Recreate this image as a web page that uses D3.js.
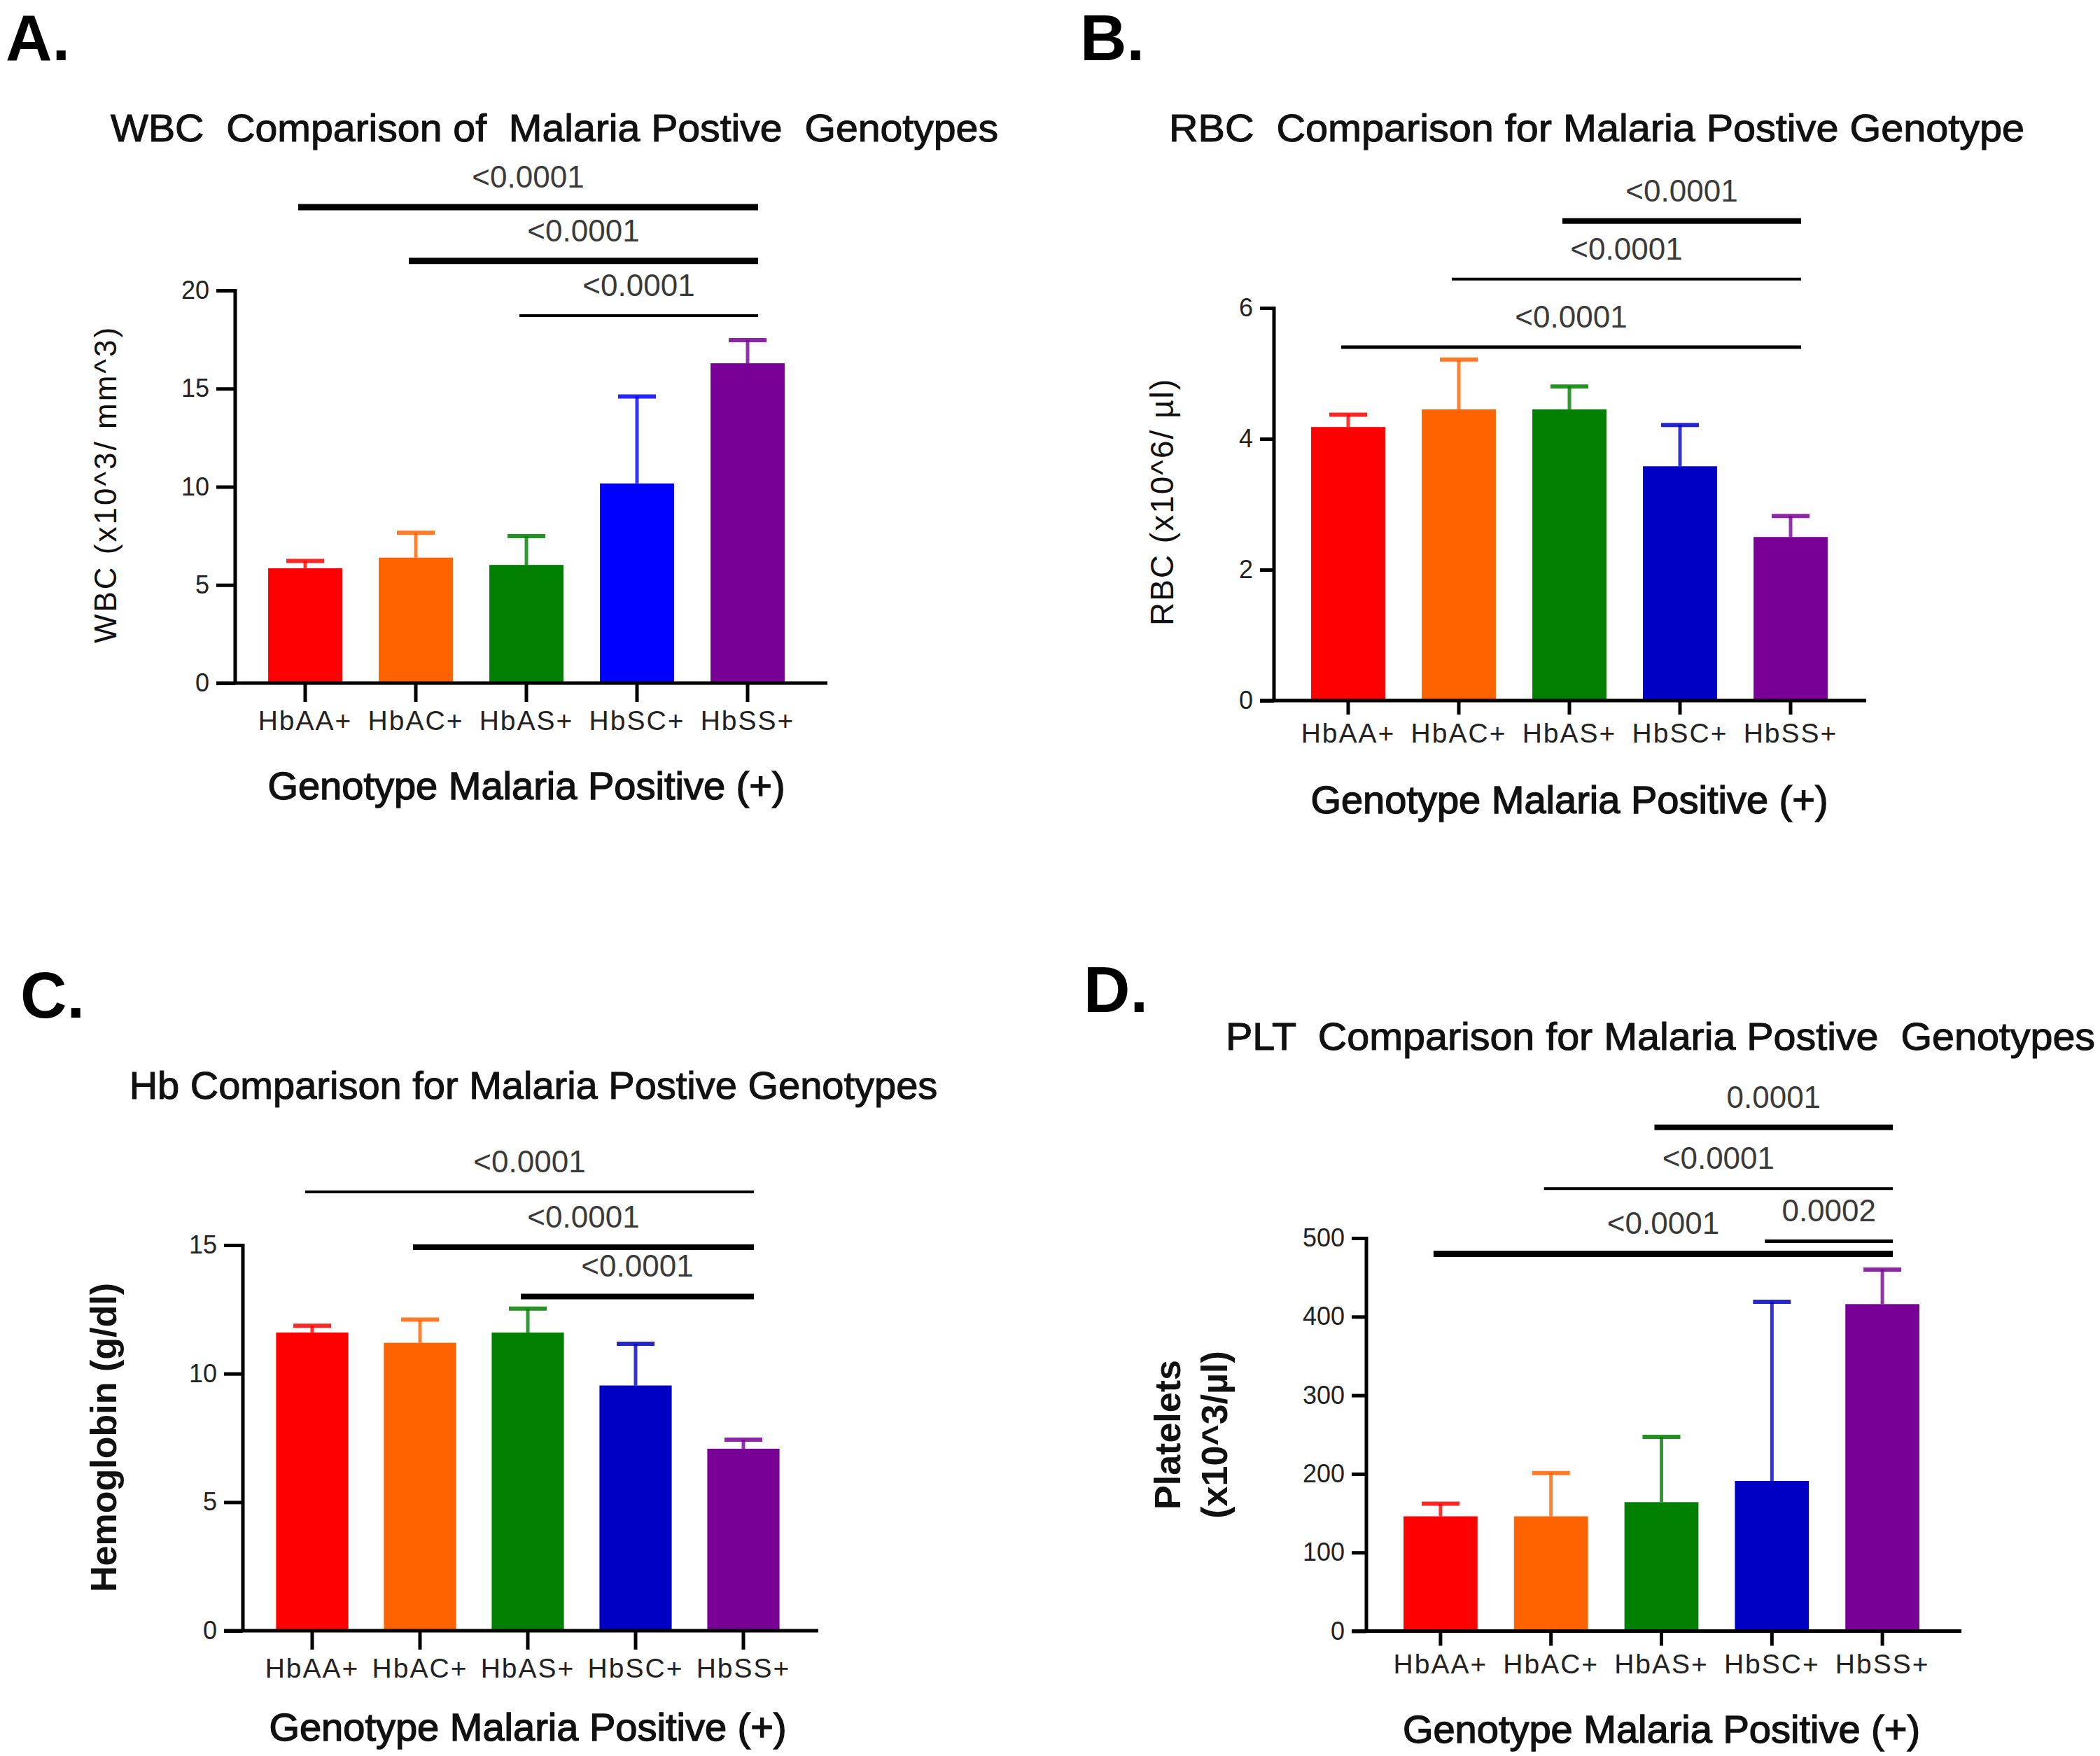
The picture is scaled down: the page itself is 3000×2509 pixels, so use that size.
<!DOCTYPE html>
<html>
<head>
<meta charset="utf-8">
<script src="https://cdn.jsdelivr.net/npm/d3@7"></script>
<style>
  html, body { margin: 0; padding: 0; background: #fff; }
  svg { display: block; }
  text { font-family: "Liberation Sans", Arial, sans-serif; }
</style>
</head>
<body>
<svg id="chart" width="3000" height="2509"></svg>
<script>
// ---------------- DATA ----------------
const categories = ["HbAA+", "HbAC+", "HbAS+", "HbSC+", "HbSS+"];

const wbcMean = [5.85, 6.39, 6.02, 10.17, 16.29];
const wbcErr  = [0.37, 1.27, 1.47, 4.43, 1.18];
const wbcTicks = [0, 5, 10, 15, 20];
const wbcComps = [
  { a: 0, b: 4, p: "<0.0001", y: 24.24 },
  { a: 1, b: 4, p: "<0.0001", y: 21.51 },
  { a: 2, b: 4, p: "<0.0001", y: 18.72 }
];

const rbcMean = [4.18, 4.45, 4.45, 3.58, 2.50];
const rbcErr  = [0.19, 0.76, 0.35, 0.63, 0.32];
const rbcTicks = [0, 2, 4, 6];
const rbcComps = [
  { a: 2, b: 4, p: "<0.0001", y: 7.33 },
  { a: 1, b: 4, p: "<0.0001", y: 6.44 },
  { a: 0, b: 4, p: "<0.0001", y: 5.40 }
];

const hbMean = [11.60, 11.20, 11.60, 9.54, 7.08];
const hbErr  = [0.26, 0.90, 0.93, 1.62, 0.35];
const hbTicks = [0, 5, 10, 15];
const hbComps = [
  { a: 0, b: 4, p: "<0.0001", y: 17.07 },
  { a: 1, b: 4, p: "<0.0001", y: 14.92 },
  { a: 2, b: 4, p: "<0.0001", y: 13.00 }
];

const pltMean = [146, 146, 164, 191, 416];
const pltErr  = [16, 55, 83, 228, 44];
const pltTicks = [0, 100, 200, 300, 400, 500];
const pltComps = [
  { a: 2, b: 4, p: "0.0001",  y: 641 },
  { a: 1, b: 4, p: "<0.0001", y: 563 },
  { a: 0, b: 4, p: "<0.0001", y: 480 },
  { a: 3, b: 4, p: "0.0002",  y: 496 }
];

const panelLetters = ["A.", "B.", "C.", "D."];
const panelTitles = [
  "WBC  Comparison of  Malaria Postive  Genotypes",
  "RBC  Comparison for Malaria Postive Genotype",
  "Hb Comparison for Malaria Postive Genotypes",
  "PLT  Comparison for Malaria Postive  Genotypes"
];
const yTitles = [
  ["WBC (x10^3/ mm^3)"],
  ["RBC (x10^6/ µl)"],
  ["Hemoglobin (g/dl)"],
  ["Platelets", "(x10^3/µl)"]
];
const xTitle = "Genotype Malaria Positive (+)";

// ---------------- STYLE / LAYOUT ----------------
const colorsA = ["#ff0000", "#ff6300", "#007f00", "#0000ff", "#780096"];
const colorsB = ["#ff0000", "#ff6300", "#007f00", "#0000c4", "#780096"];
const compWidths = [[9, 9, 4], [8, 4, 5], [4, 8, 8], [8, 4, 9, 5]];

const layouts = [
  { letterX: 8, letterY: 86, titleX: 792, titleY: 202, titleW: 1268, yAxisX: 336, y0: 976, yTop: 415,
    band: [357, 1147], axisEnd: 1182, tickLen: 27, yTitleX: 166, yTitleY: 692, yTitleBold: false, yTitleSize: 44,
    yTitleSpacing: 3, xTitleY: 1142, colors: colorsA },
  { letterX: 1543, letterY: 86, titleX: 2281, titleY: 202, titleW: 1222, yAxisX: 1820, y0: 1001, yTop: 440,
    band: [1847, 2637], axisEnd: 2666, tickLen: 20, yTitleX: 1676, yTitleY: 717, yTitleBold: false, yTitleSize: 46,
    yTitleSpacing: 2, xTitleY: 1162, colors: colorsB },
  { letterX: 29, letterY: 1454, titleX: 762, titleY: 1570, titleW: 1166, yAxisX: 347, y0: 2330, yTop: 1779,
    band: [369, 1139], axisEnd: 1169, tickLen: 27, yTitleX: 166, yTitleY: 2054, yTitleBold: true, yTitleSize: 52,
    yTitleSpacing: 0, xTitleY: 2487, colors: colorsB },
  { letterX: 1548, letterY: 1446, titleX: 2372, titleY: 1500, titleW: 1242, yAxisX: 1952, y0: 2330.5, yTop: 1769,
    band: [1979, 2768], axisEnd: 2802, tickLen: 21, yTitleX: 1686, yTitleY: 2050, yTitleBold: true, yTitleSize: 52,
    yTitleSpacing: 0, xTitleY: 2490, colors: colorsB, yTitleGap: 67 }
];

const means = [wbcMean, rbcMean, hbMean, pltMean];
const errs = [wbcErr, rbcErr, hbErr, pltErr];
const ticksAll = [wbcTicks, rbcTicks, hbTicks, pltTicks];
const compsAll = [wbcComps, rbcComps, hbComps, pltComps];

const svg = d3.select("#chart");
const AXIS_W = 5;

layouts.forEach((L, i) => {
  const g = svg.append("g");
  const ticks = ticksAll[i];
  const y = d3.scaleLinear().domain([0, d3.max(ticks)]).range([L.y0, L.yTop]);
  const x = d3.scaleBand().domain(categories).range(L.band).paddingInner(0.33).paddingOuter(0.165);
  const cx = c => x(c) + x.bandwidth() / 2;
  const data = categories.map((c, k) => ({ c, m: means[i][k], e: errs[i][k], col: L.colors[k] }));

  // panel letter
  g.append("text").attr("x", L.letterX).attr("y", L.letterY)
    .attr("font-size", 92).attr("font-weight", "bold").attr("fill", "#000").text(panelLetters[i]);

  // title
  const tt = g.append("text").attr("x", L.titleX).attr("y", L.titleY).attr("text-anchor", "middle")
    .attr("font-size", 56).attr("fill", "#111").attr("stroke", "#111").attr("stroke-width", 1.1)
    .style("white-space", "pre").text(panelTitles[i]);
  const tw = tt.node().getComputedTextLength();
  if (Math.abs(tw - L.titleW) > 20) tt.attr("textLength", L.titleW).attr("lengthAdjust", "spacingAndGlyphs");

  // error bars (drawn under bars)
  data.forEach(d => {
    g.append("line").attr("x1", cx(d.c)).attr("x2", cx(d.c))
      .attr("y1", y(d.m)).attr("y2", y(d.m + d.e))
      .attr("stroke", d.col).attr("stroke-width", 5).attr("stroke-opacity", 0.8);
    g.append("line").attr("x1", cx(d.c) - 27).attr("x2", cx(d.c) + 27)
      .attr("y1", y(d.m + d.e)).attr("y2", y(d.m + d.e))
      .attr("stroke", d.col).attr("stroke-width", 6).attr("stroke-opacity", 0.85);
  });

  // bars
  g.selectAll("rect.bar").data(data).enter().append("rect")
    .attr("class", "bar")
    .attr("x", d => x(d.c)).attr("width", x.bandwidth())
    .attr("y", d => y(d.m)).attr("height", d => y(0) - y(d.m))
    .attr("fill", d => d.col);

  // y axis
  const yAxis = d3.axisLeft(y).tickValues(ticks).tickSize(L.tickLen).tickPadding(10).tickFormat(d3.format("d"));
  const ya = g.append("g").attr("transform", `translate(${L.yAxisX},0)`).call(yAxis);
  ya.select(".domain").attr("stroke", "#000").attr("stroke-width", AXIS_W)
    .attr("d", `M0,${L.yTop - 2}V${L.y0 + 2}`);
  ya.selectAll(".tick line").attr("stroke", "#000").attr("stroke-width", AXIS_W);
  ya.selectAll(".tick text").attr("font-size", 36).attr("fill", "#222")
    .attr("font-family", "'Liberation Sans', Arial, sans-serif");

  // x axis
  const xAxis = d3.axisBottom(x).tickSize(L.tickLen).tickPadding(12);
  const xa = g.append("g").attr("transform", `translate(0,${L.y0})`).call(xAxis);
  xa.select(".domain").attr("stroke", "#000").attr("stroke-width", AXIS_W)
    .attr("d", `M${L.yAxisX - L.tickLen},0H${L.axisEnd}`);
  xa.selectAll(".tick line").attr("stroke", "#000").attr("stroke-width", AXIS_W);
  xa.selectAll(".tick text").attr("font-size", 39).attr("fill", "#222").attr("letter-spacing", 2)
    .attr("font-family", "'Liberation Sans', Arial, sans-serif");

  // x title
  const mid = (cx(categories[0]) + cx(categories[categories.length - 1])) / 2;
  g.append("text").attr("x", mid).attr("y", L.xTitleY).attr("text-anchor", "middle")
    .attr("font-size", 56).attr("fill", "#111").attr("stroke", "#111").attr("stroke-width", 1.4)
    .text(xTitle);

  // y title
  const lines = yTitles[i];
  lines.forEach((t, j) => {
    g.append("text")
      .attr("transform", `translate(${L.yTitleX + j * (L.yTitleGap || 0)},${L.yTitleY}) rotate(-90)`)
      .attr("text-anchor", "middle")
      .attr("font-size", L.yTitleSize)
      .attr("font-weight", L.yTitleBold ? "bold" : "normal")
      .attr("letter-spacing", L.yTitleSpacing)
      .attr("fill", "#111").text(t);
  });

  // significance brackets
  compsAll[i].forEach((c, k) => {
    const x1 = cx(categories[c.a]) - 10, x2 = cx(categories[c.b]) + 15;
    g.append("line").attr("x1", x1).attr("x2", x2).attr("y1", y(c.y)).attr("y2", y(c.y))
      .attr("stroke", "#000").attr("stroke-width", compWidths[i][k]);
    g.append("text").attr("x", (x1 + x2) / 2).attr("y", y(c.y) - 28)
      .attr("text-anchor", "middle").attr("font-size", 44).attr("fill", "#3a3a3a").text(c.p);
  });
});
</script>
</body>
</html>
